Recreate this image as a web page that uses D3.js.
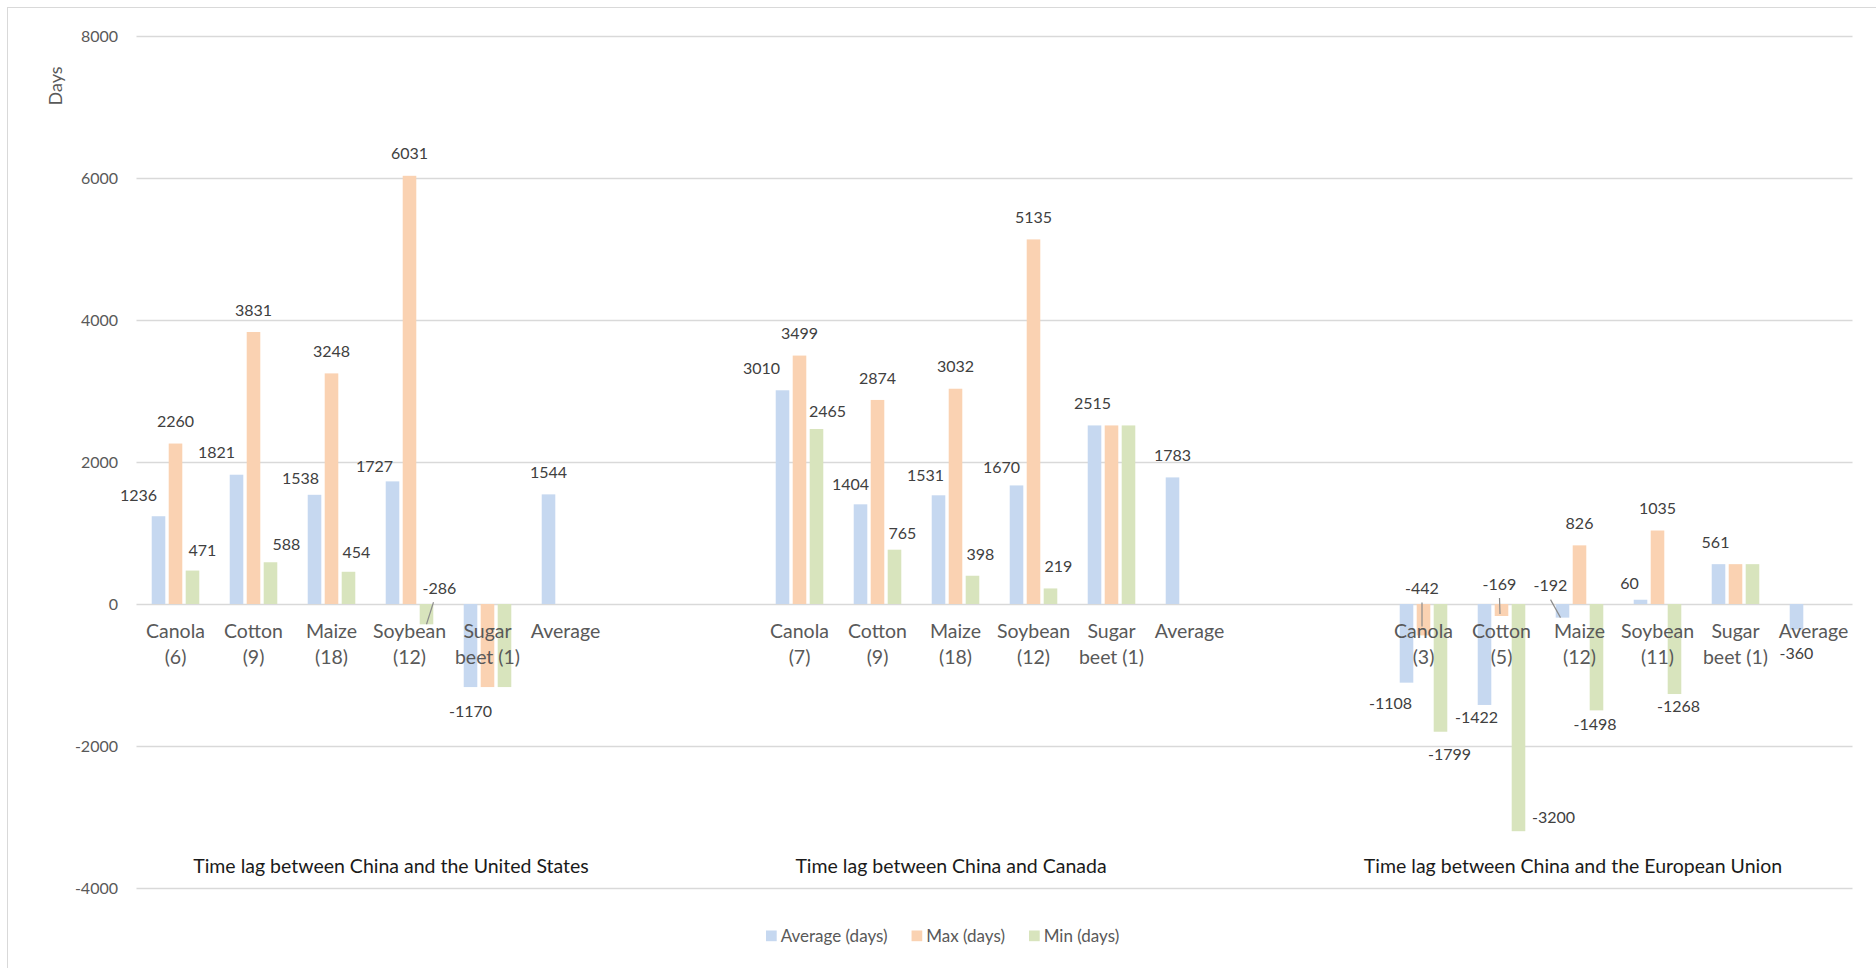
<!DOCTYPE html>
<html>
<head>
<meta charset="utf-8">
<script src="https://cdn.jsdelivr.net/npm/d3@7"></script>
<style>
  html, body { margin: 0; padding: 0; background: #fff; }
  svg { display: block; font-family: Lato, "Open Sans", sans-serif; }
</style>
</head>
<body>
<svg id="chart" width="1876" height="968"></svg>
<script>
// ---------------- DATA ----------------
const groups = [
  "Time lag between China and the United States",
  "Time lag between China and Canada",
  "Time lag between China and the European Union"
];
const categoriesUS = ["Canola (6)", "Cotton (9)", "Maize (18)", "Soybean (12)", "Sugar beet (1)", "Average"];
const categoriesCA = ["Canola (7)", "Cotton (9)", "Maize (18)", "Soybean (12)", "Sugar beet (1)", "Average"];
const categoriesEU = ["Canola (3)", "Cotton (5)", "Maize (12)", "Soybean (11)", "Sugar beet (1)", "Average"];
const seriesNames = ["Average (days)", "Max (days)", "Min (days)"];

const avgUS = [1236, 1821, 1538, 1727, -1170, 1544];
const maxUS = [2260, 3831, 3248, 6031, -1170, null];
const minUS = [471, 588, 454, -286, -1170, null];

const avgCA = [3010, 1404, 1531, 1670, 2515, 1783];
const maxCA = [3499, 2874, 3032, 5135, 2515, null];
const minCA = [2465, 765, 398, 219, 2515, null];

const avgEU = [-1108, -1422, -192, 60, 561, -360];
const maxEU = [-442, -169, 826, 1035, 561, null];
const minEU = [-1799, -3200, -1498, -1268, 561, null];

const yTicks = [-4000, -2000, 0, 2000, 4000, 6000, 8000];
const yTitle = "Days";

// ---------------- STYLE / LAYOUT ----------------
const colors = ["#c6d8f0", "#fad2b2", "#d8e4bd"];
const W = 1876, H = 968;
const plotLeft = 136.5, plotRight = 1852.5;
const gapSlots = 2;
const fmt = v => String(v); // plain hyphen-minus as in the original

// label nudges (layout only), key = group|category|series
const hiddenLabels = new Set(["0|4|1","0|4|2","1|4|1","1|4|2","2|4|1","2|4|2"]);
const nudge = {
  "0|0|0": {dx:-20, dy:1}, "0|1|0": {dx:-20, dy:0}, "0|2|0": {dx:-14, dy:6}, "0|3|0": {dx:-18, dy:7},
  "0|0|2": {dx:10, dy:2},  "0|1|2": {dx:16, dy:4},  "0|2|2": {dx:8, dy:3},
  "0|3|2": {dx:13, dy:-60, leader:{sx:-6, sy:14, ex:0, ey:0}},
  "1|0|0": {dx:-21, dy:0}, "1|1|0": {dx:-10, dy:2}, "1|2|0": {dx:-13, dy:2}, "1|3|0": {dx:-15, dy:4},
  "1|0|2": {dx:11, dy:4},  "1|1|2": {dx:8, dy:6},   "1|2|2": {dx:8, dy:1},  "1|3|2": {dx:8, dy:0},
  "1|4|0": {dx:-2, dy:0},
  "2|0|0": {dx:-16, dy:-3}, "2|0|2": {dx:9, dy:-1},
  "2|0|1": {dx:-1.5, dy:-71, leader:{sx:0, sy:14, ex:-1.5, ey:-9}},
  "2|1|0": {dx:-8, dy:-12},
  "2|1|1": {dx:-2, dy:-56, leader:{sx:0, sy:14, ex:-1.5, ey:-2}},
  "2|1|2": {dx:35, dy:-38},
  "2|2|0": {dx:-12, dy:-56, leader:{sx:0, sy:14, ex:-2, ey:0}},
  "2|2|2": {dx:-1.5, dy:-10},
  "2|3|0": {dx:-11, dy:6}, "2|3|2": {dx:4, dy:-12},
  "2|4|0": {dx:-3, dy:0}
};
const groupLabelShift = [20.5, -43.5, -45.5];

// ---------------- BUILD ----------------
const catsByGroup = [categoriesUS, categoriesCA, categoriesEU];
const valuesByGroup = [[avgUS, maxUS, minUS], [avgCA, maxCA, minCA], [avgEU, maxEU, minEU]];

const slots = [];
catsByGroup.forEach((cats, g) => {
  if (g > 0) for (let k = 0; k < gapSlots; k++) slots.push(`gap${g}-${k}`);
  cats.forEach((c, i) => slots.push(`${g}|${i}`));
});

const x = d3.scaleBand().domain(slots).range([plotLeft, plotRight]).paddingInner(0).paddingOuter(0);
const step = x.bandwidth();
const xs = d3.scaleBand().domain(d3.range(seriesNames.length))
  .range([step * 0.195, step * 0.805]).paddingInner(0.2).paddingOuter(0);
const y = d3.scaleLinear().domain([-4000, 8000]).range([888, 36]);

const svg = d3.select("#chart");
svg.append("rect").attr("width", W).attr("height", H).attr("fill", "#fff");
// chart area border (left/top visible)
svg.append("rect").attr("x", 7.5).attr("y", 7.5).attr("width", W + 20).attr("height", H + 20)
  .attr("fill", "none").attr("stroke", "#d9d9d9").attr("stroke-width", 1);

// gridlines + y axis
const yAxis = d3.axisLeft(y).tickValues(yTicks).tickSize(-(plotRight - plotLeft)).tickPadding(18)
  .tickFormat(fmt);
const gy = svg.append("g").attr("transform", `translate(${plotLeft},0)`).call(yAxis);
gy.select(".domain").remove();
gy.selectAll(".tick line").attr("stroke", "#d9d9d9").attr("stroke-width", 1.5);
gy.selectAll(".tick text").attr("fill", "#595959").attr("font-size", 16)
  .attr("font-family", "Lato").attr("x", 118 - plotLeft).attr("dy", "0.34em");

// y title
svg.append("text").attr("transform", `translate(56,86) rotate(-90)`)
  .attr("text-anchor", "middle").attr("dy", "0.35em")
  .attr("fill", "#595959").attr("font-size", 18).text(yTitle);

// bars
const barData = [];
valuesByGroup.forEach((ser, g) => {
  ser.forEach((vals, s) => {
    vals.forEach((v, i) => {
      if (v === null) return;
      barData.push({g, s, i, v, key: `${g}|${i}|${s}`});
    });
  });
});

const barsG = svg.append("g");
barsG.selectAll("rect").data(barData).join("rect")
  .attr("x", d => x(`${d.g}|${d.i}`) + xs(d.s))
  .attr("width", xs.bandwidth())
  .attr("y", d => Math.min(y(d.v), y(0)))
  .attr("height", d => Math.abs(y(d.v) - y(0)))
  .attr("fill", d => colors[d.s]);

// category labels
const catG = svg.append("g");
catsByGroup.forEach((cats, g) => {
  cats.forEach((c, i) => {
    const sp = c.indexOf(" ");
    const lines = sp > 0 ? [c.slice(0, sp), c.slice(sp + 1)] : [c];
    const t = catG.append("text").attr("text-anchor", "middle").attr("fill", "#595959")
      .attr("font-size", 19.5);
    const cx = x(`${g}|${i}`) + step / 2;
    lines.forEach((ln, k) => {
      t.append("tspan").attr("x", cx).attr("y", 631.5 + k * 25.7).attr("dy", "0.35em").text(ln);
    });
  });
});

// data labels
const lblG = svg.append("g");
barData.forEach(d => {
  if (hiddenLabels.has(d.key)) return;
  const bx = x(`${d.g}|${d.i}`) + xs(d.s) + xs.bandwidth() / 2;
  const end = y(d.v);
  let cx = bx, cy = d.v >= 0 ? end - 22 : end + 24;
  const n = nudge[d.key];
  if (n) { cx += n.dx; cy += n.dy; }
  lblG.append("text").attr("x", cx).attr("y", cy).attr("dy", "0.35em")
    .attr("text-anchor", "middle").attr("fill", "#404040").attr("font-size", 16)
    .text(fmt(d.v));
  if (n && n.leader) {
    const L = n.leader;
    lblG.append("line")
      .attr("x1", cx + L.sx).attr("y1", cy + L.sy)
      .attr("x2", bx + L.ex).attr("y2", end + L.ey)
      .attr("stroke", "#8c8c8c").attr("stroke-width", 1.2);
  }
});

// group labels
groups.forEach((gname, g) => {
  const first = x(`${g}|0`);
  const last = x(`${g}|${catsByGroup[g].length - 1}`) + step;
  svg.append("text").attr("x", (first + last) / 2 + groupLabelShift[g]).attr("y", 866)
    .attr("dy", "0.35em").attr("text-anchor", "middle").attr("fill", "#1a1a1a")
    .attr("font-size", 19.5).attr("font-weight", 400).text(gname);
});

// legend
const leg = svg.append("g").attr("transform", "translate(766,936)");
let lx = 0;
seriesNames.forEach((name, s) => {
  leg.append("rect").attr("x", lx).attr("y", -5.5).attr("width", 10.7).attr("height", 10.7)
    .attr("fill", colors[s]);
  const t = leg.append("text").attr("x", lx + 14.7).attr("y", 0).attr("dy", "0.35em")
    .attr("fill", "#595959").attr("font-size", 17).text(name);
  lx += 14.7 + t.node().getComputedTextLength() + 24;
});
</script>
</body>
</html>
